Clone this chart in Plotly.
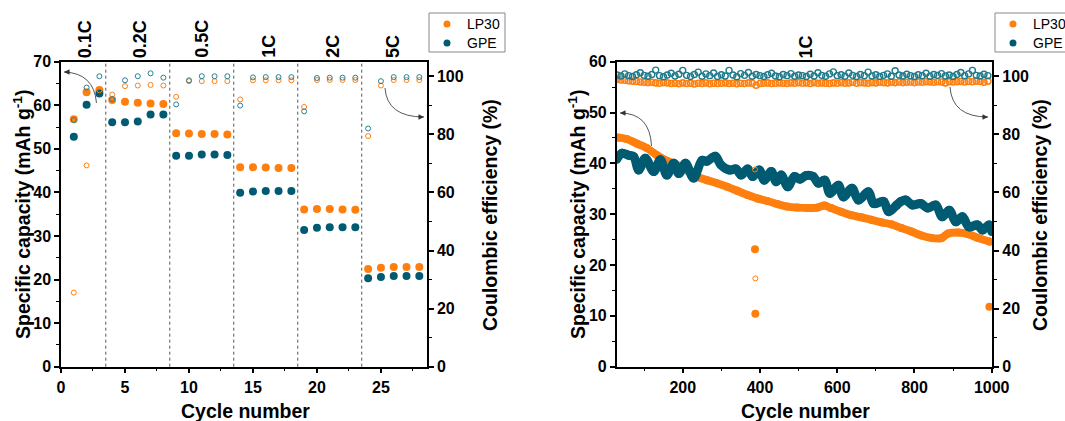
import plotly.graph_objects as go

# ---------------- Left panel: rate capability ----------------
rate_cycles = list(range(1, 29))
lp30_rate_cap = [56.8, 63.0, 63.5, 61.2, 60.8, 60.6, 60.4, 60.3,
                 53.6, 53.5, 53.4, 53.4, 53.3,
                 45.8, 45.8, 45.7, 45.6, 45.6,
                 36.1, 36.2, 36.2, 36.1, 36.0,
                 22.4, 22.7, 22.9, 22.9, 22.9]
gpe_rate_cap = [52.8, 60.1, 62.7, 56.1, 56.1, 56.3, 57.9, 57.9,
                48.4, 48.4, 48.7, 48.7, 48.6,
                39.9, 40.2, 40.3, 40.3, 40.3,
                31.4, 31.9, 32.0, 32.0, 32.0,
                20.3, 20.6, 20.8, 20.8, 20.8]
lp30_rate_ce = [25.5, 69.3, 95.2, 93.7, 96.6, 96.8, 97.0, 96.8,
                92.9, 98.3, 98.3, 98.3, 98.3,
                92.0, 98.6, 98.6, 98.6, 98.6,
                89.4, 98.7, 98.7, 98.7, 98.7,
                79.4, 96.8, 98.7, 98.7, 98.7]
gpe_rate_ce = [84.9, 96.1, 100.0, 92.1, 98.6, 100.0, 101.0, 99.5,
               90.3, 98.6, 100.0, 100.0, 100.0,
               89.9, 99.6, 99.7, 99.7, 99.7,
               87.9, 99.4, 99.5, 99.5, 99.5,
               82.0, 98.3, 99.7, 99.7, 99.7]
rate_labels = ["0.1C", "0.2C", "0.5C", "1C", "2C", "5C"]
rate_label_cycles = [1.9, 6.2, 11.0, 16.2, 21.2, 25.9]
rate_boundaries = [3.5, 8.5, 13.5, 18.5, 23.5]
series_names = ["LP30", "GPE"]

# ---------------- Right panel: long cycling at 1C ----------------
lp30_long_cyc = [29, 55, 81, 107, 133, 159, 185, 211, 237, 263, 289, 315, 341,
                 367, 393, 419, 445, 471, 497, 523, 549, 567, 584, 610, 636,
                 662, 688, 714, 740, 766, 792, 818, 844, 870, 887, 913, 939,
                 965, 995]
lp30_long_cap = [45.1, 44.8, 43.9, 43.0, 41.6, 40.5, 39.7, 38.6, 37.4, 36.7,
                 36.1, 35.4, 34.6, 33.8, 33.1, 32.6, 32.0, 31.5, 31.3, 31.2,
                 31.3, 31.7, 31.2, 30.5, 29.8, 29.4, 28.9, 28.4, 28.0, 27.3,
                 26.6, 25.8, 25.3, 25.3, 26.2, 26.4, 26.1, 25.3, 24.6]
gpe_long_cyc = [29, 43, 60, 73, 86, 103, 125, 142, 159, 177, 190, 207, 228,
                250, 262, 284, 299, 321, 338, 351, 368, 381, 398, 411, 429,
                442, 455, 472, 489, 504, 519, 538, 551, 568, 581, 603, 616,
                638, 655, 681, 694, 720, 733, 754, 765, 777, 795, 816, 834,
                855, 872, 890, 907, 924, 941, 963, 976, 993, 1000]
gpe_long_cap = [40.8, 42.0, 41.6, 41.3, 38.7, 41.0, 38.4, 40.7, 37.7, 40.0,
                38.0, 40.0, 37.1, 40.6, 40.4, 41.4, 39.7, 38.7, 38.9, 37.7,
                38.9, 37.4, 38.7, 36.7, 38.4, 36.4, 37.7, 35.4, 37.4, 36.9,
                37.6, 37.4, 36.1, 36.7, 34.1, 35.7, 33.4, 35.1, 32.8, 34.4,
                32.1, 32.5, 30.5, 31.8, 32.5, 32.8, 31.8, 32.1, 31.2, 31.8,
                29.5, 30.8, 28.5, 29.5, 27.5, 27.9, 26.9, 27.9, 26.6]
lp30_outlier_cyc = [387, 388, 994]
lp30_outlier_cap = [23.1, 10.4, 11.8]
lp30_outlier_ce_cyc = [387, 388]
lp30_outlier_ce = [67.9, 30.4]

ce_long_cyc = list(range(30, 1000, 10))
lp30_long_ce = [98.9, 98.7, 98.6, 98.4, 98.3, 98.2, 98.0, 97.9,
                97.8, 97.9, 97.7, 97.6, 97.8, 97.7, 97.5, 97.6, 97.4, 97.7,
                97.5, 97.6, 97.3, 97.6, 97.5, 97.7, 97.4, 97.6, 97.5, 97.6,
                97.7, 97.5, 97.6, 97.4, 97.6, 97.5, 97.7, 97.6, 96.9, 97.5,
                97.6, 97.7, 97.5, 97.6, 97.7, 97.6, 97.5, 97.7, 97.6, 97.8,
                97.6, 97.7, 97.5, 97.8, 97.6, 97.7, 97.6, 97.5, 97.7, 97.6,
                97.8, 97.6, 97.7, 97.9, 97.6, 97.8, 97.7, 97.6, 97.8, 97.7,
                97.9, 97.8, 97.7, 97.9, 97.8, 98.0, 97.8, 97.9, 98.0, 97.8,
                98.0, 97.9, 98.1, 98.0, 97.9, 98.1, 98.0, 97.7, 98.1, 98.0,
                98.1, 98.2, 98.0, 98.2, 98.1, 98.3, 98.2, 97.9, 98.3]
gpe_long_ce = [100.4, 100.1, 100.8, 100.2, 99.9, 100.5, 101.2, 100.3,
               100.0, 100.6, 102.1, 100.2, 99.8, 100.4, 101.0, 100.1, 100.7, 102.0,
               100.3, 99.9, 100.6, 101.4, 100.0, 100.8, 100.2, 101.1, 99.9, 100.5,
               100.1, 102.0, 100.4, 99.8, 100.9, 100.3, 101.3, 100.0, 100.6, 100.2,
               99.9, 100.5, 101.0, 100.1, 99.8, 100.6, 100.2, 100.9, 100.0, 100.4,
               100.2, 99.9, 100.7, 100.1, 101.2, 100.3, 100.0, 100.8, 101.5, 100.2,
               100.5, 100.0, 101.1, 100.3, 99.9, 100.6, 100.2, 101.4, 100.1, 100.5,
               99.9, 100.3, 100.8, 100.0, 101.9, 100.4, 100.1, 100.7, 100.2, 99.9,
               100.5, 100.2, 101.0, 100.0, 100.6, 100.3, 100.9, 100.1, 100.4, 99.9,
               100.6, 101.3, 100.2, 100.8, 102.0, 100.3, 100.1, 100.7, 100.2]

# ---------------- styling ----------------
W, H = 1065, 421
ORANGE = "#FF7F0E"
TEAL = "#005B72"
FONT = "Liberation Sans"
series_colors = [ORANGE, TEAL]


def px(xp):
    return xp / W


def py(yp):
    return 1 - yp / H


top_px, bot_px = 61.7, 366.7
ydom = [py(bot_px), py(top_px)]

fig = go.Figure()

# left panel
fig.add_trace(go.Scatter(x=rate_cycles, y=lp30_rate_cap, mode="markers", name="LP30",
                         marker=dict(color=ORANGE, size=8), xaxis="x", yaxis="y"))
fig.add_trace(go.Scatter(x=rate_cycles, y=gpe_rate_cap, mode="markers", name="GPE",
                         marker=dict(color=TEAL, size=8), xaxis="x", yaxis="y"))
fig.add_trace(go.Scatter(x=rate_cycles, y=lp30_rate_ce, mode="markers",
                         marker=dict(color=ORANGE, size=5, symbol="circle-open",
                                     line=dict(width=1)), xaxis="x", yaxis="y2"))
fig.add_trace(go.Scatter(x=rate_cycles, y=gpe_rate_ce, mode="markers",
                         marker=dict(color="#2A7F92", size=5, symbol="circle-open",
                                     line=dict(width=1)), xaxis="x", yaxis="y2"))

# right panel
fig.add_trace(go.Scatter(x=ce_long_cyc, y=lp30_long_ce, mode="markers",
                         marker=dict(color=ORANGE, size=6, symbol="circle-open",
                                     line=dict(width=1.6)), xaxis="x2", yaxis="y4"))
fig.add_trace(go.Scatter(x=ce_long_cyc, y=gpe_long_ce, mode="markers",
                         marker=dict(color="#1F7A8C", size=6, symbol="circle-open",
                                     line=dict(width=1.4)), xaxis="x2", yaxis="y4"))
fig.add_trace(go.Scatter(x=lp30_outlier_ce_cyc, y=lp30_outlier_ce, mode="markers",
                         marker=dict(color=ORANGE, size=5, symbol="circle-open",
                                     line=dict(width=1)), xaxis="x2", yaxis="y4"))
fig.add_trace(go.Scatter(x=lp30_long_cyc, y=lp30_long_cap, mode="lines+markers",
                         line=dict(color=ORANGE, width=8, shape="spline"),
                         marker=dict(color=ORANGE, size=8), xaxis="x2", yaxis="y3"))
fig.add_trace(go.Scatter(x=gpe_long_cyc, y=gpe_long_cap, mode="lines+markers",
                         line=dict(color=TEAL, width=9, shape="spline"),
                         marker=dict(color=TEAL, size=9), xaxis="x2", yaxis="y3"))
fig.add_trace(go.Scatter(x=lp30_outlier_cyc, y=lp30_outlier_cap, mode="markers",
                         marker=dict(color=ORANGE, size=8), xaxis="x2", yaxis="y3"))

tickfont = dict(family=FONT, size=16, color="black", weight="bold")
minor_style = dict(ticks="outside", ticklen=3, tickcolor="black", tickwidth=1.2)
common = dict(showline=True, linecolor="black", linewidth=1.5, ticks="outside",
              ticklen=5, tickwidth=1.5, tickcolor="black", showgrid=False,
              zeroline=False, tickfont=tickfont, automargin=False)

fig.update_layout(
    width=W, height=H,
    margin=dict(l=0, r=0, t=0, b=0, autoexpand=False),
    plot_bgcolor="white", paper_bgcolor="white",
    showlegend=False,
    xaxis=dict(domain=[px(61), px(427)], range=[0, 28.6], anchor="y", mirror=True,
               tickmode="array", tickvals=[0, 5, 10, 15, 20, 25],
               minor=dict(dtick=2.5, tick0=0, **minor_style), **common),
    yaxis=dict(domain=ydom, range=[0, 70], anchor="x", dtick=10,
               minor=dict(dtick=5, **minor_style), **common),
    yaxis2=dict(overlaying="y", side="right", anchor="x", range=[0, 105],
                tickmode="array", tickvals=[0, 20, 40, 60, 80, 100],
                minor=dict(tickmode="array", tickvals=[10, 30, 50, 70, 90], **minor_style),
                **common),
    xaxis2=dict(domain=[px(616.7), px(992.3)], range=[29, 1001.5], anchor="y3",
                mirror=True, tickmode="array", tickvals=[200, 400, 600, 800, 1000],
                minor=dict(tickmode="array", tickvals=[100, 300, 500, 700, 900],
                           **minor_style), **common),
    yaxis3=dict(domain=ydom, range=[0, 60], anchor="x2", dtick=10,
                minor=dict(dtick=5, **minor_style), **common),
    yaxis4=dict(overlaying="y3", side="right", anchor="x2", range=[0, 105],
                tickmode="array", tickvals=[0, 20, 40, 60, 80, 100],
                minor=dict(tickmode="array", tickvals=[10, 30, 50, 70, 90], **minor_style),
                **common),
    font=dict(family=FONT, color="black"),
)

# dotted rate boundaries
for b in rate_boundaries:
    fig.add_shape(type="line", xref="x", yref="paper", x0=b, x1=b, y0=ydom[0], y1=ydom[1],
                  line=dict(color="#555555", width=1, dash="dot"))

# rate labels above the left panel
for lab, c in zip(rate_labels, rate_label_cycles):
    fig.add_annotation(x=c, xref="x", y=py(60), yref="paper", text=lab, showarrow=False,
                       textangle=-90, xanchor="center", yanchor="bottom",
                       font=dict(family=FONT, size=18, color="black", weight="bold"))
fig.add_annotation(x=px(805), xref="paper", y=py(61), yref="paper", text="1C",
                   showarrow=False, textangle=-90, xanchor="center", yanchor="bottom",
                   font=dict(family=FONT, size=18, color="black", weight="bold"))

# axis titles
title_font = dict(family=FONT, size=19.5, color="black", weight="bold")
for xc in (245, 805):
    fig.add_annotation(x=px(xc), y=py(411), xref="paper", yref="paper",
                       text="Cycle number", showarrow=False, font=title_font,
                       xanchor="center", yanchor="middle")
for xc in (22, 577):
    fig.add_annotation(x=px(xc), y=py(215), xref="paper", yref="paper",
                       text="Specific capacity (mAh g<sup>-1</sup>)", showarrow=False,
                       textangle=-90, font=title_font, xanchor="center", yanchor="middle")
for xc in (490, 1040):
    fig.add_annotation(x=px(xc), y=py(215), xref="paper", yref="paper",
                       text="Coulombic efficiency (%)", showarrow=False,
                       textangle=-90, font=title_font, xanchor="center", yanchor="middle")


# compact boxed legends (as in the original figure)
def legend_box(left, right):
    fig.add_shape(type="rect", xref="paper", yref="paper",
                  x0=px(left), x1=px(right), y0=py(52), y1=py(13),
                  line=dict(color="#888888", width=1), fillcolor="white")
    for i, (name, col) in enumerate(zip(series_names, series_colors)):
        yc = 24 + 19 * i
        fig.add_shape(type="circle", xref="paper", yref="paper",
                      x0=px(left + 14.5), x1=px(left + 21.5),
                      y0=py(yc + 3.5), y1=py(yc - 3.5),
                      line=dict(width=0), fillcolor=col)
        fig.add_annotation(x=px(left + 36), y=py(yc), xref="paper", yref="paper",
                           text=name, showarrow=False, xanchor="left", yanchor="middle",
                           font=dict(family=FONT, size=14, color="black"))


legend_box(429, 505)
legend_box(995, 1080)


# curved arrows pointing to the relevant axis
def curved_arrow(tail, ctrl, head, direction):
    path = "M {:.5f},{:.5f} Q {:.5f},{:.5f} {:.5f},{:.5f}".format(
        px(tail[0]), py(tail[1]), px(ctrl[0]), py(ctrl[1]), px(head[0]), py(head[1]))
    fig.add_shape(type="path", xref="paper", yref="paper", path=path,
                  line=dict(color="#444444", width=0.9))
    fig.add_annotation(x=px(head[0]), y=py(head[1]), xref="paper", yref="paper",
                       text="", showarrow=True, arrowhead=2, arrowsize=1.1,
                       arrowwidth=1, arrowcolor="#333333",
                       ax=7 * direction, ay=0, standoff=0)


curved_arrow((96.5, 103), (94, 73), (64, 72), 1)
curved_arrow((385, 88), (387, 117), (424, 117), -1)
curved_arrow((651.5, 146), (650, 113), (620, 113), 1)
curved_arrow((950, 87), (952, 117), (988, 117), -1)

fig.write_html("out.html", config={"displayModeBar": False},
               post_script="document.body.style.margin='0';"
                           "document.body.style.overflow='hidden';")
